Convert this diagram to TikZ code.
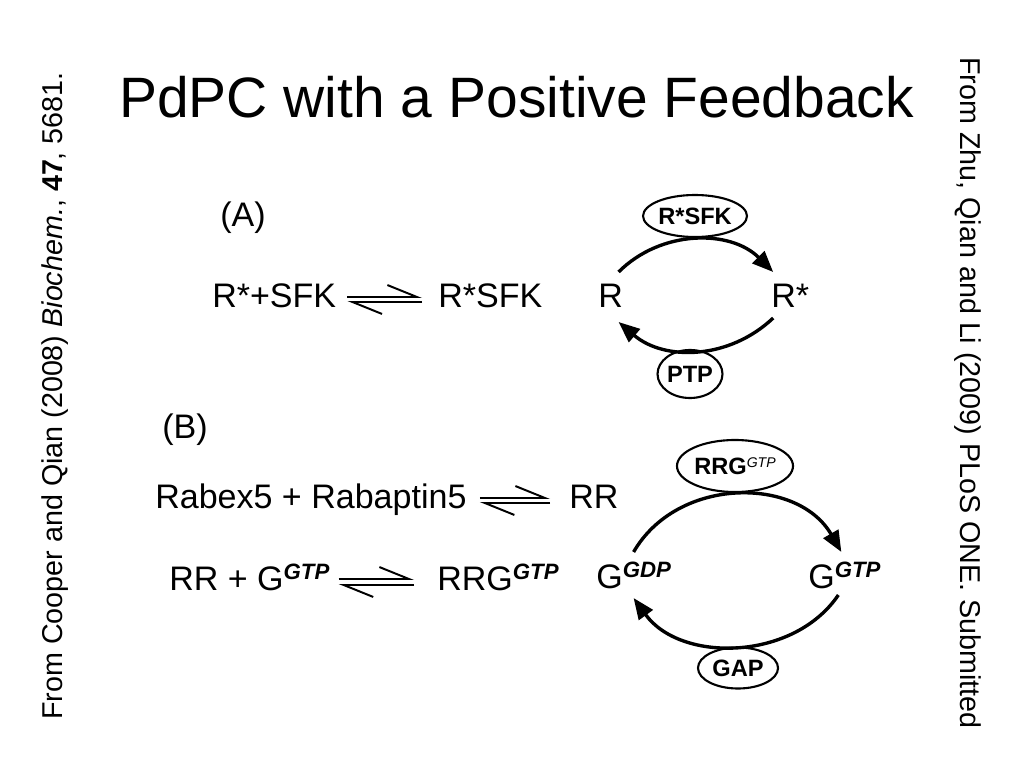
\documentclass[tikz,border=0pt]{standalone}
\usepackage{fontspec}
\setmainfont{Liberation Sans}
\usetikzlibrary{calc,positioning,arrows.meta,shapes.geometric}
\newcommand{\gsup}[1]{\raisebox{7.5pt}{\fontsize{15.8}{16}\selectfont\bfseries\itshape #1}}
\newcommand{\esup}[1]{\raisebox{5pt}{\fontsize{10}{10}\selectfont\mdseries\itshape #1}}
\tikzstyle{species} = [inner sep=0pt, anchor=base west, font=\fontsize{24.2}{28}\selectfont]
\tikzstyle{enzyme} = [ellipse, draw=black, line width=1.5pt, inner sep=0pt, font=\fontsize{16.8}{20}\selectfont\bfseries]
\tikzstyle{cycle} = [line width=2.4pt, -{Triangle[length=15pt,width=12pt]}]
\tikzstyle{harp} = [line width=1.4pt, -{Straight Barb[harpoon,length=21pt,width=17pt]}]
\tikzstyle{note} = [inner sep=0pt, anchor=base, font=\fontsize{20.4}{24}\selectfont]

\begin{document}
\begin{tikzpicture}[x=0.025cm,y=-0.025cm]
\useasboundingbox (0,0) rectangle (1024,768);
\node (title) [inner sep=0pt, anchor=base west, font=\fontsize{40.5}{48}\selectfont] at (119,118) {PdPC with a Positive Feedback};
\node (src a) [note, rotate=90] at (62,396) {From Cooper and Qian (2008) \textit{Biochem.}, \textbf{47}, 5681.};
\node (src b) [note, rotate=-90] at (960,393) {From Zhu, Qian and Li (2009) PLoS ONE. Submitted};
% (A)
\node (lab a) [species] at (220,226) {(A)};
\node (rs sfk) [species] at (212,307) {R*+SFK};
\node (rsfk) [species] at (438,307) {R*SFK};
\node (r) [species] at (598,307) {R};
\node (rstar) [species] at (771,307) {R*};
\node (e sfk) [enzyme, minimum width=2.4cm, minimum height=1.05cm] at (695,216) {R*SFK};
\node (e ptp) [enzyme, minimum width=1.4cm, minimum height=1.2cm] at (690,374) {PTP};
\draw [harp] ($(rs sfk.base east)+(11,-10)$) -- ($(rsfk.base west)+(-16,-10)$);
\draw [harp] ($(rsfk.base west)+(-16,-5)$) -- ($(rs sfk.base east)+(11,-5)$);
\draw [cycle] ($(r.base)+(8,-35)$) to[bend left=45] ($(rstar.base)+(-17,-35)$);
\draw [cycle] ($(rstar.base)+(-17,11)$) to[bend left=42] ($(r.base)+(8,15)$);
% (B)
\node (lab b) [species] at (162,438) {(B)};
\node (rab) [species] at (155,508) {Rabex5 + Rabaptin5};
\node (rr) [species] at (569,508) {RR};
\node (rr g) [species] at (169,590) {RR + G\gsup{GTP}};
\node (rrg) [species] at (437,590) {RRG\gsup{GTP}};
\node (g gdp) [species] at (596,588) {G\gsup{GDP}};
\node (g gtp) [species] at (808,588) {G\gsup{GTP}};
\node (e rrg) [enzyme, minimum width=2.9cm, minimum height=1.3cm] at (735,466) {RRG\esup{GTP}};
\node (e gap) [enzyme, minimum width=2.0cm, minimum height=1.025cm] at (738,668) {GAP};
\draw [harp] ($(rab.base east)+(13,-10)$) -- ($(rr.base west)+(-19,-10)$);
\draw [harp] ($(rr.base west)+(-19,-5)$) -- ($(rab.base east)+(13,-5)$);
\draw [harp] ($(rr g.base east)+(9,-11)$) -- ($(rrg.base west)+(-23,-11)$);
\draw [harp] ($(rrg.base west)+(-23,-5)$) -- ($(rr g.base east)+(9,-5)$);
\draw [cycle] ($(g gdp.base)+(0,-36)$) to[bend left=60, looseness=1.08] ($(g gtp.base)+(-3,-36)$);
\draw [cycle] ($(g gtp.base)+(-6,7)$) to[bend left=55] ($(g gdp.base)+(0,10)$);
\end{tikzpicture}
\end{document}
